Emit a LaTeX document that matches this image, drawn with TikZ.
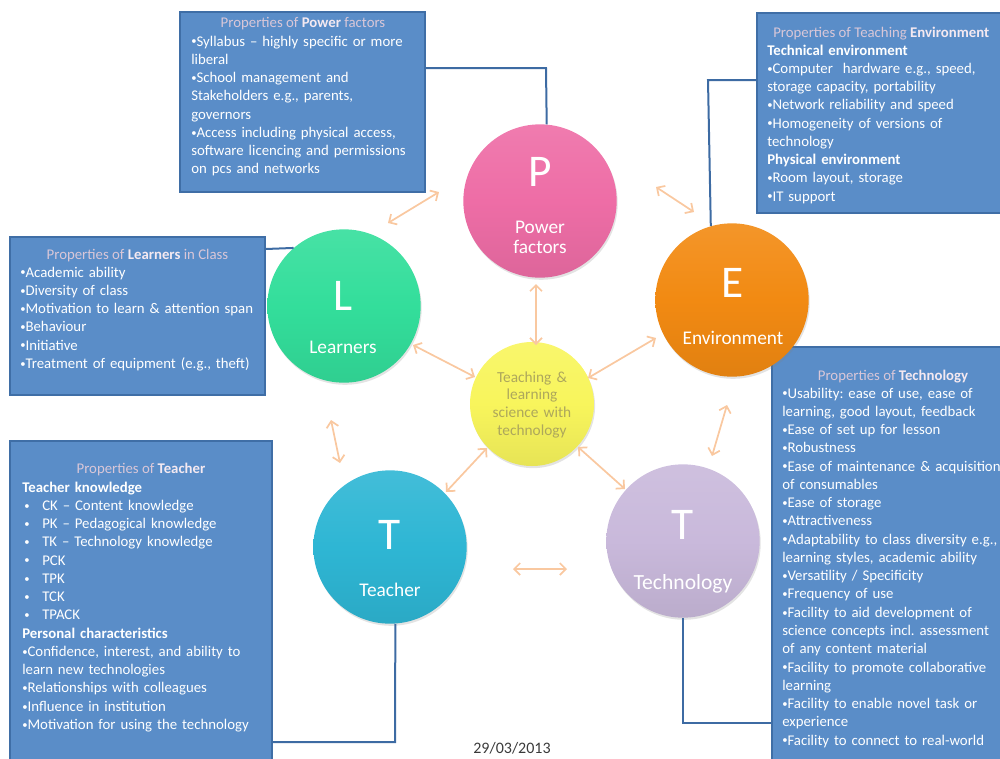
\documentclass[tikz,border=0pt]{standalone}
\usepackage{fontspec}
\usepackage{graphicx}
\setmainfont{Carlito}
\frenchspacing
\usetikzlibrary{arrows.meta,shadows,fit}

\definecolor{boxfill}{HTML}{5A8DC8}
\definecolor{boxedge}{HTML}{3F6EA6}
\definecolor{linkblue}{HTML}{3D6BA3}
\definecolor{headgray}{HTML}{D9C7D8}
\definecolor{headbold}{HTML}{F4E9F1}
\definecolor{peach}{HTML}{F9C8A0}
\definecolor{pPink}{HTML}{EE6DA6}
\definecolor{lGreen}{HTML}{33DE9B}
\definecolor{eOrange}{HTML}{F28A12}
\definecolor{cYellow}{HTML}{F8F55C}
\definecolor{cText}{HTML}{ADA75C}
\definecolor{tCyan}{HTML}{2EB6D4}
\definecolor{tLilac}{HTML}{C9B9DB}
\definecolor{dateGray}{HTML}{3A3A3A}

\newcommand\bodyfont{\fontsize{11.1pt}{13.7pt}\selectfont}
\newcommand\hb[1]{\textbf{\color{headbold}#1}}
\newcommand\bul{\raisebox{0.08em}{\scalebox{0.72}{•}}}
\newcommand\tbul{\makebox[15pt][l]{\hspace{1.5pt}\bul}}

\tikzset{
  propbox/.style={draw=boxedge, line width=1.1pt, fill=boxfill, inner sep=0pt,
    drop shadow={shadow xshift=1pt, shadow yshift=-1pt, opacity=0.25, fill=black!40}},
  headtext/.style={text=headgray, font=\bodyfont, inner sep=0pt},
  bodytext/.style={text=white, font=\bodyfont, inner sep=0pt, text width=260pt,
    align=left, anchor=base west},
  ball/.style={circle, minimum size=115pt, inner sep=0pt, draw=none,
    top color=#1!90!white, bottom color=#1!93!black, middle color=#1,
    drop shadow={shadow xshift=0.8pt, shadow yshift=-1.6pt, opacity=0.22, fill=black!50}},
  letter/.style={text=white, font=\fontsize{34pt}{34pt}\selectfont, inner sep=0pt, anchor=base},
  ballname/.style={text=white, font=\fontsize{14.5pt}{15pt}\selectfont, inner sep=0pt,
    anchor=base, align=center, text width=110pt},
  link/.style={draw=peach, line width=1.3pt,
    {Straight Barb[length=4.5pt,width=9pt]}-{Straight Barb[length=4.5pt,width=9pt]}},
  boxlink/.style={draw=linkblue, line width=1.5pt}
}

\begin{document}
\begin{tikzpicture}[x=0.75pt, y=-0.75pt]
\useasboundingbox (0,0) rectangle (1000,758);
\clip (0,0) rectangle (1000,758);

% ---- property boxes ----
\node[propbox, fit={(180,12) (425,192)}] (powerbox) {};
\node[propbox, fit={(757,13) (1010,213)}] (envbox) {};
\node[propbox, fit={(10,237) (265,395)}] (learnbox) {};
\node[propbox, fit={(10,441) (272,770)}] (teachbox) {};
\node[propbox, fit={(772,347) (1010,770)}] (techbox) {};

% ---- box texts ----
\node[headtext, anchor=base] (powerhead) at (303,27) {Properties of \hb{Power} factors};
\node[bodytext] (powertext) at (191,46) {\bul Syllabus – highly specific or more\\
liberal\\
\bul School management and\\
Stakeholders e.g., parents,\\
governors\\
\bul Access including physical access,\\
software licencing and permissions\\
on pcs and networks};

\node[headtext, anchor=base west] (envhead) at (773,37) {Properties of Teaching \hb{Environment}};
\node[bodytext] (envtext) at (767,55) {\textbf{Technical environment}\\
\bul Computer\ \ hardware e.g., speed,\\
storage capacity, portability\\
\bul Network reliability and speed\\
\bul Homogeneity of versions of\\
technology\\
\textbf{Physical environment}\\
\bul Room layout, storage\\
\bul IT support};

\node[headtext, anchor=base] (learnhead) at (137.5,259) {Properties of \hb{Learners} in Class};
\node[bodytext] (learntext) at (20,277) {\bul Academic ability\\
\bul Diversity of class\\
\bul Motivation to learn \& attention span\\
\bul Behaviour\\
\bul Initiative\\
\bul Treatment of equipment (e.g., theft)};

\node[headtext, anchor=base] (teachhead) at (141,473) {Properties of \hb{Teacher}};
\node[bodytext] (teachtext) at (22,492) {\textbf{Teacher knowledge}\\
\tbul CK – Content knowledge\\
\tbul PK – Pedagogical knowledge\\
\tbul TK – Technology knowledge\\
\tbul PCK\\
\tbul TPK\\
\tbul TCK\\
\tbul TPACK\\
\textbf{Personal characteristics}\\
\bul Confidence, interest, and ability to\\
learn new technologies\\
\bul Relationships with colleagues\\
\bul Influence in institution\\
\bul Motivation for using the technology};

\node[headtext, anchor=base] (techhead) at (893,380) {Properties of \hb{Technology}};
\node[bodytext] (techtext) at (782,398) {\bul Usability: ease of use, ease of\\
learning, good layout, feedback\\
\bul Ease of set up for lesson\\
\bul Robustness\\
\bul Ease of maintenance \& acquisition\\
of consumables\\
\bul Ease of storage\\
\bul Attractiveness\\
\bul Adaptability to class diversity e.g.,\\
learning styles, academic ability\\
\bul Versatility / Specificity\\
\bul Frequency of use\\
\bul Facility to aid development of\\
science concepts incl. assessment\\
of any content material\\
\bul Facility to promote collaborative\\
learning\\
\bul Facility to enable novel task or\\
experience\\
\bul Facility to connect to real-world};

% ---- circles ----
\node[ball=pPink] (P) at (540,201) {};
\node[ball=lGreen] (L) at (344,306) {};
\node[ball=eOrange] (E) at (732,300) {};
\node[ball=tCyan] (teacher) at (390,547) {};
\node[ball=tLilac] (tech) at (683,541) {};
\node[circle, minimum size=93pt, inner sep=0pt, top color=cYellow!90!white,
  bottom color=cYellow!93!black, middle color=cYellow,
  drop shadow={shadow xshift=0.8pt, shadow yshift=-1.6pt, opacity=0.22, fill=black!50}]
  (C) at (532,404) {};

\node[letter] (Pl) at (540,186) {P};
\node[ballname] (Pn) at (540,233) {Power\\factors};
\node[letter] (Ll) at (343,310) {L};
\node[ballname] (Ln) at (343,353) {Learners};
\node[letter] (El) at (733,297) {E};
\node[ballname] (En) at (733,344) {Environment};
\node[letter] (Tl) at (390,549) {T};
\node[ballname] (Tn) at (390,596) {Teacher};
\node[letter] (Ql) at (683,539) {T};
\node[ballname, font=\fontsize{16.2pt}{17pt}\selectfont] (Qn) at (683,589.5) {Technology};
\node[text=cText, font=\fontsize{11.5pt}{13.3pt}\selectfont, inner sep=0pt,
  anchor=base, align=center, text width=80pt] (Cn) at (532,382) {Teaching \&\\learning\\science with\\technology};

% ---- box-to-circle connectors ----
\coordinate (pk) at (546,68);
\draw[boxlink] (powerbox.east |- pk) -- (pk) -- (P.85);
\coordinate (ek) at (708,80);
\draw[boxlink] (envbox.west |- ek) -- (ek) -- (E.106);
\coordinate (lk) at (265,249);
\draw[boxlink] (learnbox.east |- lk) -- (L.131);
\coordinate (tk) at (395,742);
\draw[boxlink] (teacher.274) -- (tk) -- (teachbox.east |- tk);
\coordinate (qk) at (683,723);
\draw[boxlink] (tech.south) -- (qk) -- (techbox.west |- qk);

% ---- two-way arrows ----
\coordinate (a1) at (388,223);  \coordinate (a2) at (439,192);
\coordinate (b1) at (656,187);  \coordinate (b2) at (694,212);
\coordinate (c1) at (536,284);  \coordinate (c2) at (536,345);
\coordinate (d1) at (413,345);  \coordinate (d2) at (475,377);
\coordinate (e1) at (588,378);  \coordinate (e2) at (656,338);
\coordinate (f1) at (331,420);  \coordinate (f2) at (340,463);
\coordinate (g1) at (487,448);  \coordinate (g2) at (446,492);
\coordinate (h1) at (578,447);  \coordinate (h2) at (625,489);
\coordinate (i1) at (513,569);  \coordinate (i2) at (567,569);
\coordinate (j1) at (727,405);  \coordinate (j2) at (712,456);
\foreach \s in {a,b,c,d,e,f,g,h,i,j}{\draw[link] (\s1) -- (\s2);}

% ---- date ----
\node[text=dateGray, font=\fontsize{12pt}{14pt}\selectfont, inner sep=0pt, anchor=base]
  (date) at (512,753) {29/03/2013};
\end{tikzpicture}
\end{document}
